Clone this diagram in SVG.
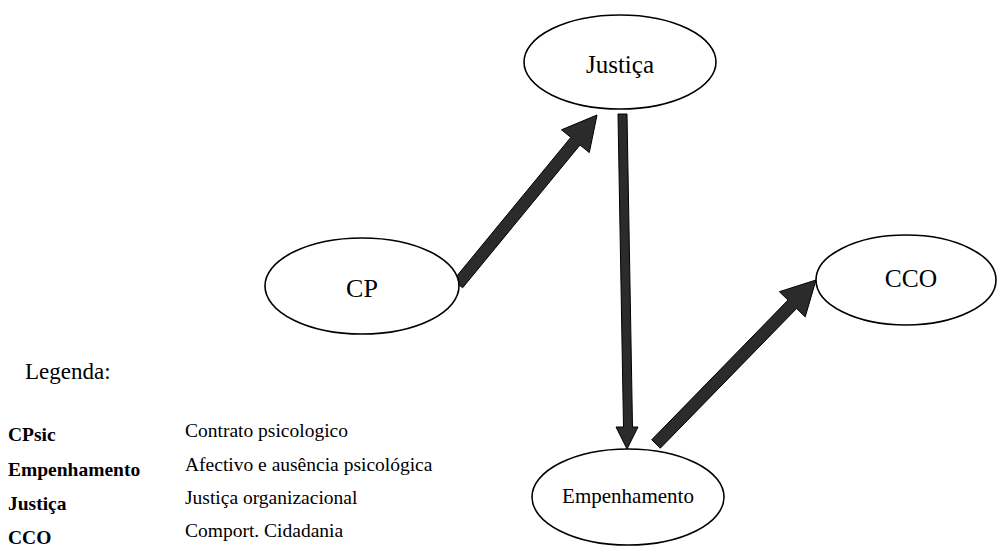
<svg xmlns="http://www.w3.org/2000/svg" width="998" height="547" viewBox="0 0 998 547">
  <style>
    .node ellipse { fill: #fff; stroke: #000; stroke-width: 1.6; }
    .label { font-family: "Liberation Serif", "Times New Roman", serif; fill: #000; }
    .arrow { fill: #2b2b2b; stroke: #000; stroke-width: 1; stroke-linejoin: miter; }
    .key { font-family: "Liberation Serif", "Times New Roman", serif; font-size: 19.5px; font-weight: bold; fill: #000; }
    .desc { font-family: "Liberation Serif", "Times New Roman", serif; font-size: 19.5px; fill: #000; }
  </style>

  <rect width="998" height="547" fill="#fff"/>

  <!-- connectors: thick block arrows -->
  <g id="connectors">
    <!-- CP to Justiça -->
    <polygon class="arrow" points="453.4,280.2 570.8,137.4 561.5,129.8 597,115 589.3,152.6 580,145 462.6,287.8"/>
    <!-- Justiça to Empenhamento -->
    <polygon class="arrow" points="618,114 627,114 632.5,427 638,427 627,449 616,427 623.5,427"/>
    <!-- Empenhamento to CCO -->
    <polygon class="arrow" points="651.7,439.8 788,300.1 779.4,291.7 816,280 805.2,316.9 796.6,308.5 660.3,448.2"/>
  </g>

  <g id="node-justica" class="node">
    <ellipse cx="620" cy="62" rx="96" ry="47"/>
    <text class="label" x="620" y="73" font-size="25" text-anchor="middle">Justiça</text>
  </g>

  <g id="node-cp" class="node">
    <ellipse cx="362" cy="286" rx="97" ry="48"/>
    <text class="label" x="362" y="297" font-size="26" text-anchor="middle">CP</text>
  </g>

  <g id="node-cco" class="node">
    <ellipse cx="906" cy="280" rx="90" ry="45"/>
    <text class="label" x="911" y="287" font-size="25.5" text-anchor="middle">CCO</text>
  </g>

  <g id="node-empenhamento" class="node">
    <ellipse cx="628" cy="497" rx="96" ry="48"/>
    <text class="label" x="628" y="503" font-size="21" text-anchor="middle">Empenhamento</text>
  </g>

  <!-- legend -->
  <g id="legend">
    <text class="label" x="25" y="379" font-size="23">Legenda:</text>
    <text class="key" x="8" y="441">CPsic</text>
    <text class="key" x="8" y="476">Empenhamento</text>
    <text class="key" x="8" y="510">Justiça</text>
    <text class="key" x="8" y="544">CCO</text>
    <text class="desc" x="185" y="437">Contrato psicologico</text>
    <text class="desc" x="185" y="471">Afectivo e ausência psicológica</text>
    <text class="desc" x="185" y="504">Justiça organizacional</text>
    <text class="desc" x="185" y="537">Comport. Cidadania</text>
  </g>
</svg>
